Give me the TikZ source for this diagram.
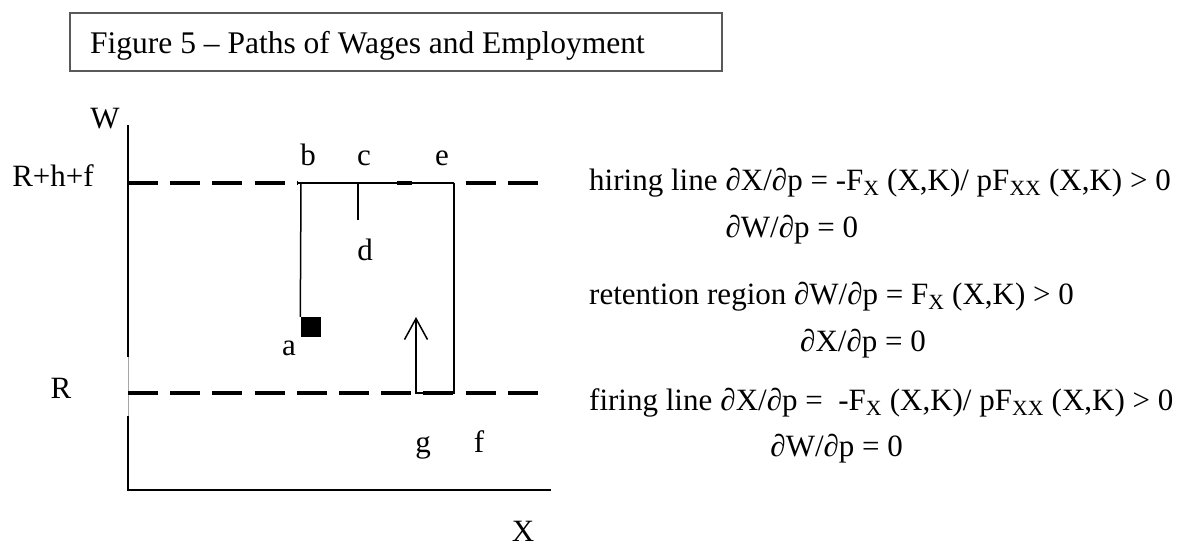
\documentclass[tikz,border=0pt]{standalone}
\usepackage{fontspec}
\setmainfont{Liberation Serif}
\usetikzlibrary{positioning,arrows.meta}

\begin{document}
\begin{tikzpicture}[x=1pt, y=-1pt,
    lbl/.style={inner sep=0pt, anchor=base, font=\fontsize{31}{37}\selectfont},
    eqn/.style={inner sep=0pt, anchor=base west, font=\fontsize{31}{37}\selectfont},
    thickdash/.style={line width=4pt, dash pattern=on 30pt off 12.2pt},
    pathln/.style={line width=1.5pt}
  ]
  \useasboundingbox (0,0) rectangle (1185,549);
  % title box
  \draw[line width=1.5pt, black!65] (70,13) rectangle (722,71);
  \node[inner sep=0pt, anchor=base west, font=\fontsize{31.5}{37}\selectfont] (title) at (90,53) {Figure 5 -- Paths of Wages and Employment};
  % axes
  \coordinate (wtop) at (128,125);
  \coordinate (o) at (128,490);
  \coordinate (xend) at (551,490);
  \coordinate (gap1) at (128,357);
  \coordinate (gap2) at (128,416);
  \draw[line width=1.6pt] (wtop) -- (gap1);
  \draw[line width=0.8pt, black!35] (gap1) -- (gap2);
  \draw[line width=1.6pt] (gap2) -- (o) -- (xend);
  \node[lbl] (W) at (105,128) {W};
  \node[lbl] (X) at (523,541) {X};
  \node[lbl] (Rhf) at (53,186) {R+h+f};
  \node[lbl] (R) at (61,398) {R};
  % hiring and firing lines
  \draw[thickdash] (128,183) -- (297,183);
  \draw[line width=4pt] (397,183) -- (412,183);
  \draw[thickdash] (465.6,183) -- (538,183);
  \draw[thickdash] (128,393) -- (538,393);
  % path of wages and employment
  \coordinate (b0) at (297,183);
  \coordinate (b1) at (301,183);
  \coordinate (c0) at (358,183);
  \coordinate (d0) at (358,220);
  \coordinate (e0) at (454,183);
  \coordinate (f0) at (454,393);
  \coordinate (g0) at (416,393);
  \coordinate (tip) at (416,317);
  \node[fill=black, minimum size=20pt, inner sep=0pt] (sqa) at (310.5,327) {};
  \draw[pathln] (b0) -- (e0);
  \draw[pathln] (b1) -- (sqa.north west);
  \draw[pathln] (c0) -- (d0);
  \draw[pathln, -{Straight Barb[length=21pt, width=23pt]}] (e0) -- (f0) -- (g0) -- (tip);
  \node[lbl] (a) at (289,355) {a};
  \node[lbl] (b) at (308,165) {b};
  \node[lbl] (c) at (364,165) {c};
  \node[lbl] (e) at (442,165) {e};
  \node[lbl] (d) at (365,260) {d};
  \node[lbl] (g) at (423,452) {g};
  \node[lbl] (f) at (479,452) {f};
  % conditions
  \node[eqn] (hire) at (589,190) {hiring line\ \ };
  \node[eqn, right=0pt of hire.base east, anchor=base west] (hireeq) {∂X/∂p = -F\textsubscript{X} (X,K)/ pF\textsubscript{XX} (X,K) > 0};
  \node[eqn] (hirew) at ([yshift=-47pt]hireeq.base west) {∂W/∂p = 0};
  \node[eqn] (keep) at (589,304) {retention region ∂W/∂p = F\textsubscript{X} (X,K) > 0};
  \node[eqn] (keepx) at (800,351) {∂X/∂p = 0};
  \node[eqn] (fire) at (589,410) {firing line\ \ };
  \node[eqn, right=0pt of fire.base east, anchor=base west] (fireeq) {∂X/∂p =\ \ -F\textsubscript{X} (X,K)/ pF\textsubscript{XX} (X,K) > 0};
  \node[eqn] (firew) at ([xshift=50pt, yshift=-46pt]fireeq.base west) {∂W/∂p = 0};
\end{tikzpicture}
\end{document}
